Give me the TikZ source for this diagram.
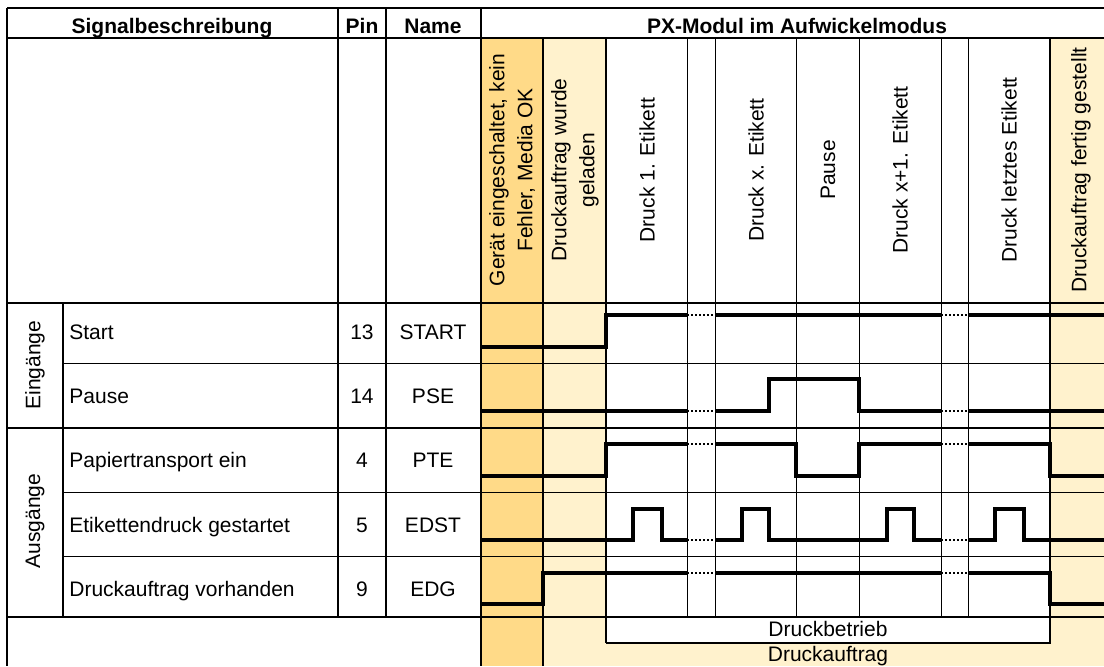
\documentclass[tikz,border=0pt]{standalone}
\usepackage{fontspec}
\setmainfont{Liberation Sans}
\definecolor{phaseDark}{RGB}{255,218,136}
\definecolor{phaseLight}{RGB}{255,242,205}
\tikzset{
  ktxt/.style={inner sep=0pt, anchor=base, font=\fontsize{10.5}{14}\selectfont},
  khead/.style={ktxt, font=\fontsize{10.5}{14}\selectfont\bfseries},
  kcol/.style={inner sep=0pt, font=\fontsize{10.5}{14}\selectfont, rotate=90, align=center},
  krow/.style={ktxt, anchor=base west},
  kgrid/.style={line width=1pt},
  kmid/.style={line width=0.7pt},
  kthin/.style={line width=0.5pt},
  ksig/.style={line width=1.7pt, line join=miter},
  kdots/.style={line width=1.1pt, dash pattern=on 1.1pt off 0.9pt},
}

\begin{document}
\begin{tikzpicture}[x=0.5pt, y=-0.5pt]
    \useasboundingbox (0,0) rectangle (1104,666);
    \fill[phaseDark] (481,38) rectangle (543,666);
    \fill[phaseLight] (543,38) rectangle (606,666);
    \fill[phaseLight] (1050,38) rectangle (1104,666);
    \fill[phaseLight] (606,643) rectangle (1050,666);

    \draw[kthin] (63,363) -- (1104,363);
    \draw[kthin] (63,492) -- (1104,492);
    \draw[kthin] (63,556) -- (1104,556);
    \draw[kthin] (687,38) -- (687,617);
    \draw[kthin] (715,38) -- (715,617);
    \draw[kthin] (796,38) -- (796,617);
    \draw[kthin] (859,38) -- (859,617);
    \draw[kthin] (941,38) -- (941,617);
    \draw[kthin] (968,38) -- (968,617);
    \draw[kgrid] (7,8) -- (1104,8);
    \draw[kgrid] (7,38) -- (1104,38);
    \draw[kgrid] (7,303) -- (1104,303);
    \draw[kgrid] (7,428) -- (1104,428);
    \draw[kmid] (7,617) -- (1104,617);
    \draw[kgrid] (7,8) -- (7,666);
    \draw[kgrid] (63,303) -- (63,617);
    \draw[kgrid] (338,8) -- (338,617);
    \draw[kgrid] (386,8) -- (386,617);
    \draw[kgrid] (481,8) -- (481,666);
    \draw[kgrid] (543,38) -- (543,666);
    \draw[kgrid] (606,38) -- (606,643);
    \draw[kmid] (606,643) -- (1050,643) -- (1050,38);

    \node[khead] (hsig) at (172,33) {Signalbeschreibung};
    \node[khead] (hpin) at (362,33) {Pin};
    \node[khead] (hname) at (433,33) {Name};
    \node[khead] (hmod) at (797,33) {PX-Modul im Aufwickelmodus};

    \node[kcol] (ready) at (512,170) {Gerät eingeschaltet, kein\\Fehler, Media OK};
    \node[kcol] (loaded) at (575,170) {Druckauftrag wurde\\geladen};
    \node[kcol] (first) at (647,170) {Druck 1. Etikett};
    \node[kcol] (xth) at (756,170) {Druck x. Etikett};
    \node[kcol] (pause) at (828,170) {Pause};
    \node[kcol] (xnext) at (900,170) {Druck x+1. Etikett};
    \node[kcol] (last) at (1009,170) {Druck letztes Etikett};
    \node[kcol] (done) at (1081,170) {Druckauftrag fertig gestellt};

    \node[kcol] (gin) at (35,365) {Eingänge};
    \node[kcol] (gout) at (35,521) {Ausgänge};

    \node[krow] (dstart) at (69,339) {Start};
    \node[ktxt] (pstart) at (362,339) {13};
    \node[ktxt] (nstart) at (433,339) {START};
    \node[krow] (dpse) at (69,403) {Pause};
    \node[ktxt] (ppse) at (362,403) {14};
    \node[ktxt] (npse) at (433,403) {PSE};
    \node[krow] (dpte) at (69,467) {Papiertransport ein};
    \node[ktxt] (ppte) at (362,467) {4};
    \node[ktxt] (npte) at (433,467) {PTE};
    \node[krow] (dedst) at (69,532) {Etikettendruck gestartet};
    \node[ktxt] (pedst) at (362,532) {5};
    \node[ktxt] (nedst) at (433,532) {EDST};
    \node[krow] (dedg) at (69,596) {Druckauftrag vorhanden};
    \node[ktxt] (pedg) at (362,596) {9};
    \node[ktxt] (nedg) at (433,596) {EDG};

    \node[ktxt] (betrieb) at (828,636) {Druckbetrieb};
    \node[ktxt] (auftrag) at (828,661) {Druckauftrag};

    \draw[ksig] (481,347) -- (606,347) -- (606,315) -- (687,315);
    \draw[kdots] (687,315) -- (715,315);
    \draw[ksig] (715,315) -- (941,315);
    \draw[kdots] (941,315) -- (968,315);
    \draw[ksig] (968,315) -- (1104,315);

    \draw[ksig] (481,411) -- (687,411);
    \draw[kdots] (687,411) -- (715,411);
    \draw[ksig] (715,411) -- (769,411) -- (769,379) -- (859,379) -- (859,411) -- (941,411);
    \draw[kdots] (941,411) -- (968,411);
    \draw[ksig] (968,411) -- (1104,411);

    \draw[ksig] (481,476) -- (606,476) -- (606,444) -- (687,444);
    \draw[kdots] (687,444) -- (715,444);
    \draw[ksig] (715,444) -- (796,444) -- (796,476) -- (859,476) -- (859,444) -- (941,444);
    \draw[kdots] (941,444) -- (968,444);
    \draw[ksig] (968,444) -- (1050,444) -- (1050,476) -- (1104,476);

    \draw[ksig] (481,540) -- (633,540) -- (633,509) -- (662,509) -- (662,540) -- (687,540);
    \draw[kdots] (687,540) -- (715,540);
    \draw[ksig] (715,540) -- (742,540) -- (742,509) -- (769,509) -- (769,540) -- (887,540) -- (887,509) -- (914,509) -- (914,540) -- (941,540);
    \draw[kdots] (941,540) -- (968,540);
    \draw[ksig] (968,540) -- (995,540) -- (995,509) -- (1024,509) -- (1024,540) -- (1104,540);

    \draw[ksig] (481,604) -- (543,604) -- (543,573) -- (687,573);
    \draw[kdots] (687,573) -- (715,573);
    \draw[ksig] (715,573) -- (941,573);
    \draw[kdots] (941,573) -- (968,573);
    \draw[ksig] (968,573) -- (1050,573) -- (1050,604) -- (1104,604);
  \end{tikzpicture}
\end{document}
